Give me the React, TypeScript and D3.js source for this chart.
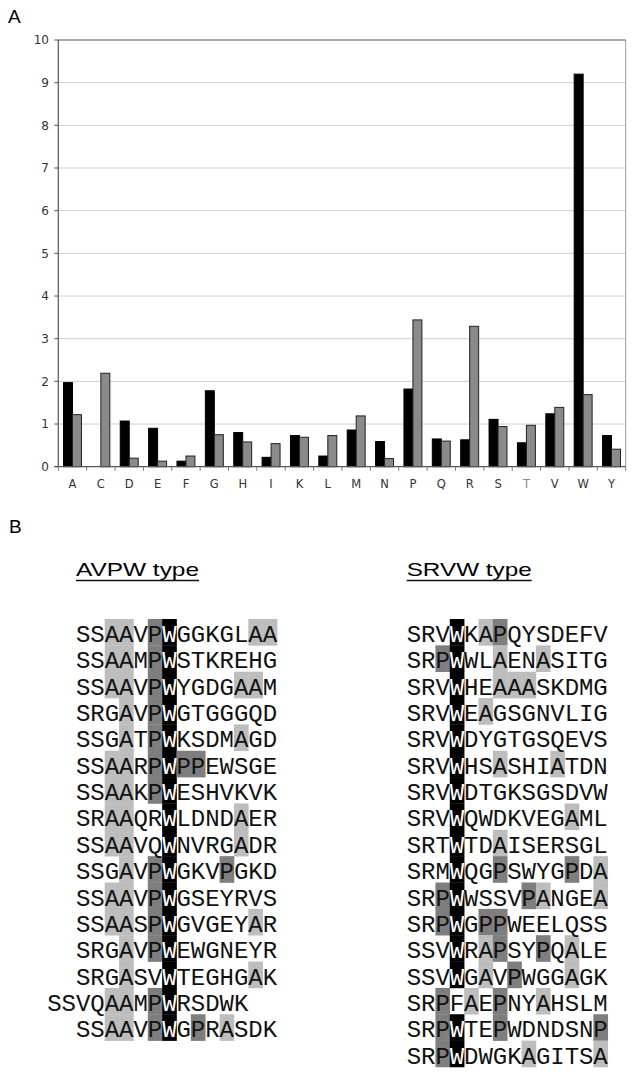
import * as d3 from "d3";

const residues = ["A", "C", "D", "E", "F", "G", "H", "I", "K", "L", "M", "N", "P", "Q", "R", "S", "T", "V", "W", "Y"];
const avpwFreq = [1.97, 0, 1.07, 0.9, 0.13, 1.78, 0.8, 0.22, 0.73, 0.25, 0.86, 0.59, 1.82, 0.65, 0.63, 1.11, 0.56, 1.24, 9.2, 0.73];
const srvwFreq = [1.22, 2.19, 0.2, 0.13, 0.25, 0.75, 0.58, 0.54, 0.69, 0.73, 1.19, 0.19, 3.44, 0.6, 3.29, 0.94, 0.97, 1.39, 1.69, 0.41];
const yTicks = [0, 1, 2, 3, 4, 5, 6, 7, 8, 9, 10];

// sequences, with column shift relative to the alignment
const avpwSeqs = [
  "SSAAVPWGGKGLAA", "SSAAMPWSTKREHG", "SSAAVPWYGDGAAM", "SRGAVPWGTGGGQD",
  "SSGATPWKSDMAGD", "SSAARPWPPEWSGE", "SSAAKPWESHVKVK", "SRAAQRWLDNDAER",
  "SSAAVQWNVRGADR", "SSGAVPWGKVPGKD", "SSAAVPWGSEYRVS", "SSAASPWGVGEYAR",
  "SRGAVPWEWGNEYR", "SRGASVWTEGHGAK", "SSVQAAMPWRSDWK", "SSAAVPWGPRASDK",
];
const avpwShift = [0, 0, 0, 0, 0, 0, 0, 0, 0, 0, 0, 0, 0, 0, -2, 0];
const srvwSeqs = [
  "SRVWKAPQYSDEFV", "SRPWWLAENASITG", "SRVWHEAAASKDMG", "SRVWEAGSGNVLIG",
  "SRVWDYGTGSQEVS", "SRVWHSASHIATDN", "SRVWDTGKSGSDVW", "SRVWQWDKVEGAML",
  "SRTWTDAISERSGL", "SRMWQGPSWYGPDA", "SRPWWSSVPANGEA", "SRPWGPPWEELQSS",
  "SSVWRAPSYPQALE", "SSVWGAVPWGGAGK", "SRPFAEPNYAHSLM", "SRPWTEPWDNDSNP",
  "SRPWDWGKAGITSA",
];

const CHART = { left: 58.3, right: 625.7, top: 40, bottom: 466.7 };
const CHAR_W = 14.36;
const ROW_H = 26.35;
const ROW0 = 642;

function Alignment({ seqs, shifts, x0, anchor }: { seqs: string[]; shifts: number[]; x0: number; anchor: number }) {
  const cells: JSX.Element[] = [];
  const letters: JSX.Element[] = [];
  seqs.forEach((seq, r) => {
    const base = ROW0 + r * ROW_H;
    seq.split("").forEach((ch, i) => {
      const col = i + shifts[r];
      const x = x0 + col * CHAR_W;
      let fill: string | null = null;
      let textFill = "#111";
      if (col === anchor && ch === "W") {
        fill = "#000";
        textFill = "#fff";
      } else if (ch === "A") fill = "#bdbdbd";
      else if (ch === "P") fill = "#7e7e7e";
      if (fill)
        cells.push(<rect key={`c${r}-${i}`} x={x} y={base - 23} width={CHAR_W + 0.3} height={ROW_H + 0.3} fill={fill} />);
      letters.push(
        <text key={`t${r}-${i}`} x={x + CHAR_W / 2} y={base} textAnchor="middle" fill={textFill}
          style={{ fontFamily: "'Liberation Mono', 'Courier New', monospace", fontSize: 24 }}>{ch}</text>
      );
    });
  });
  return <g>{cells}{letters}</g>;
}

export default function App() {
  const x0 = d3.scaleBand().domain(residues).range([CHART.left, CHART.right]).paddingInner(0);
  const x1 = d3.scaleBand().domain(["avpw", "srvw"]).range([0, x0.bandwidth()]).paddingOuter(0.58);
  const y = d3.scaleLinear().domain([0, 10]).range([CHART.bottom, CHART.top]);

  const tickFont = { fontFamily: "'DejaVu Sans', Verdana, sans-serif", fontSize: 12 };

  return (
    <svg width={637} height={1076} style={{ position: "absolute", left: 0, top: 0, background: "#fff" }}>
      <text x={8} y={23} style={{ fontFamily: "'Liberation Sans', Arial, sans-serif", fontSize: 19 }}>A</text>
      {/* gridlines */}
      {yTicks.filter((t) => t > 0 && t < 10).map((t) => (
        <line key={t} x1={CHART.left} x2={CHART.right} y1={y(t)} y2={y(t)} stroke="#cfcfcf" strokeWidth={1} />
      ))}
      <line x1={CHART.left} x2={CHART.right} y1={y(10)} y2={y(10)} stroke="#555" strokeWidth={1} />
      <line x1={CHART.right} x2={CHART.right} y1={CHART.top} y2={CHART.bottom} stroke="#999" strokeWidth={1} />
      {/* bars */}
      {residues.map((r, i) => (
        <g key={r} transform={`translate(${x0(r)},0)`}>
          {avpwFreq[i] > 0 && (
            <rect x={x1("avpw")} y={y(avpwFreq[i])} width={x1.bandwidth()} height={y(0) - y(avpwFreq[i])}
              fill="#000" stroke="#000" strokeWidth={1} />
          )}
          <rect x={x1("srvw")} y={y(srvwFreq[i])} width={x1.bandwidth()} height={y(0) - y(srvwFreq[i])}
            fill="#8a8a8a" stroke="#222" strokeWidth={1} />
        </g>
      ))}
      {/* axes */}
      <line x1={CHART.left} x2={CHART.left} y1={CHART.top} y2={CHART.bottom} stroke="#555" strokeWidth={1.2} />
      <line x1={CHART.left - 4} x2={CHART.right} y1={CHART.bottom} y2={CHART.bottom} stroke="#555" strokeWidth={1.2} />
      {yTicks.map((t) => (
        <g key={t}>
          <line x1={CHART.left - 4} x2={CHART.left} y1={y(t)} y2={y(t)} stroke="#555" />
          <text x={49} y={y(t)} dy="0.35em" textAnchor="end" fill="#333" style={tickFont}>{t}</text>
        </g>
      ))}
      {residues.map((r) => (
        <g key={r}>
          <line x1={x0(r)!} x2={x0(r)!} y1={CHART.bottom} y2={CHART.bottom + 4} stroke="#777" />
          <text x={x0(r)! + x0.bandwidth() / 2} y={488} textAnchor="middle" fill={r === "T" ? "#888" : "#333"}
            style={{ ...tickFont, fontSize: 11.5 }}>{r}</text>
        </g>
      ))}
      <line x1={CHART.right} x2={CHART.right} y1={CHART.bottom} y2={CHART.bottom + 4} stroke="#777" />

      {/* panel B */}
      <text x={9} y={533} style={{ fontFamily: "'Liberation Sans', Arial, sans-serif", fontSize: 19 }}>B</text>
      <text x={76} y={576} textLength={123} lengthAdjust="spacingAndGlyphs"
        style={{ fontFamily: "'Liberation Sans', Arial, sans-serif", fontSize: 19 }}>AVPW type</text>
      <line x1={76} x2={199} y1={580.5} y2={580.5} stroke="#111" strokeWidth={1.5} />
      <text x={406.7} y={576} textLength={125} lengthAdjust="spacingAndGlyphs"
        style={{ fontFamily: "'Liberation Sans', Arial, sans-serif", fontSize: 19 }}>SRVW type</text>
      <line x1={406.7} x2={531.7} y1={580.5} y2={580.5} stroke="#111" strokeWidth={1.5} />

      <Alignment seqs={avpwSeqs} shifts={avpwShift} x0={76} anchor={6} />
      <Alignment seqs={srvwSeqs} shifts={srvwSeqs.map(() => 0)} x0={406.7} anchor={3} />
    </svg>
  );
}
